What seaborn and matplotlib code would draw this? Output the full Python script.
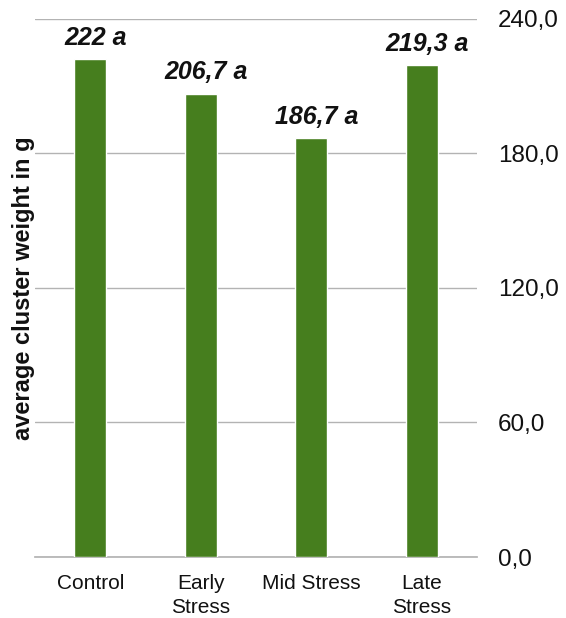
import numpy as np
import pandas as pd
import matplotlib.pyplot as plt
import seaborn as sns
from matplotlib.ticker import FuncFormatter

# Daten
categories = ['Control', 'Early\nStress', 'Mid Stress', 'Late\nStress']
weights = [222.0, 206.7, 186.7, 219.3]
bar_labels = ['222 a', '206,7 a', '186,7 a', '219,3 a']
y_ticks = [0, 60, 120, 180, 240]

sns.set_theme(style='white')
plt.rcParams['font.family'] = ['Liberation Sans', 'DejaVu Sans']

df = pd.DataFrame({'cat': categories, 'weight': weights})

fig = plt.figure(figsize=(5.66, 6.18), dpi=100)
ax = fig.add_axes([0.0618, 0.0987, 0.781, 0.8706])

sns.barplot(data=df, x='cat', y='weight', color='#467e1e', saturation=1,
            width=0.29, ax=ax, zorder=3)

ax.set_xlim(-0.5, 3.5)
ax.set_ylim(0, 240)
ax.set_yticks(y_ticks)
ax.yaxis.tick_right()
ax.yaxis.set_major_formatter(FuncFormatter(lambda v, p: f'{v:.1f}'.replace('.', ',')))
ax.tick_params(axis='y', length=0, pad=15, labelsize=17.5, labelcolor='#111111')
ax.tick_params(axis='x', length=0, pad=12, labelsize=15, labelcolor='#111111')
for t in ax.get_xticklabels():
    t.set_linespacing(1.35)
ax.grid(axis='y', color='#b3b3b3', linewidth=1, zorder=0)

for s in ['top', 'right', 'left']:
    ax.spines[s].set_visible(False)
ax.spines['bottom'].set_color('#b3b3b3')

ax.set_xlabel('')
ax.yaxis.set_label_position('left')
ax.set_ylabel('average cluster weight in g', fontsize=17, fontweight='bold', color='#111111')
ax.yaxis.set_label_coords(0.0, 0.5)

for i, (v, lab) in enumerate(zip(weights, bar_labels)):
    ax.annotate(lab, (i, v), xytext=(4, 7), textcoords='offset points',
                ha='center', va='bottom', fontsize=18,
                fontweight='bold', fontstyle='italic', color='#111111')

fig.savefig('out.png', dpi=100)
